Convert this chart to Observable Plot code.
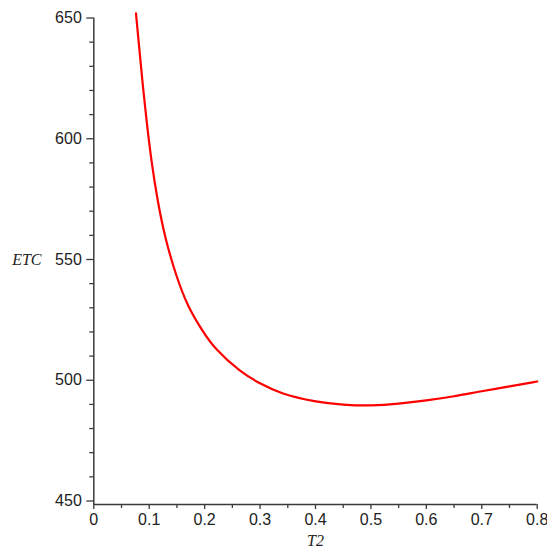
<!DOCTYPE html>
<html>
<head>
<meta charset="utf-8">
<script src="https://cdn.jsdelivr.net/npm/d3@7"></script>
<script src="https://cdn.jsdelivr.net/npm/@observablehq/plot@0.6"></script>
<style>
  html, body { margin: 0; padding: 0; background: #fff; }
</style>
</head>
<body>
<div id="chart"></div>
<script>
const T2 = [0.0761, 0.0807, 0.0875, 0.0951, 0.1037, 0.1149, 0.1288, 0.1483, 0.1691, 0.1956, 0.2165, 0.2647, 0.3008, 0.3369, 0.4, 0.45, 0.5, 0.55, 0.6, 0.65, 0.7, 0.75, 0.8];
const ETC = [651.9, 640.7, 624.1, 607.5, 591.0, 574.4, 558.6, 543.4, 530.6, 520.6, 513.4, 503.3, 498.5, 494.4, 491.0, 489.8, 489.4, 490.2, 491.6, 493.3, 495.5, 497.4, 499.5];

const xMajor = [0, 0.1, 0.2, 0.3, 0.4, 0.5, 0.6, 0.7, 0.8];
const xMinor = [0.05, 0.15, 0.25, 0.35, 0.45, 0.55, 0.65, 0.75];
const yMajor = [450, 500, 550, 600, 650];
const yMinor = [460, 470, 480, 490, 510, 520, 530, 540, 560, 570, 580, 590, 610, 620, 630, 640];

const xLabel = "T2";
const yLabel = "ETC";

const data = T2.map((t, i) => ({t, e: ETC[i]}));

const yLow = 450 - 3.5 / 2.415; // x-axis sits a few pixels below 450
const axisColor = "#3a3a3a";

const chart = Plot.plot({
  width: 547,
  height: 548,
  marginLeft: 93.3,
  marginRight: 10.3,
  marginTop: 17.5,
  marginBottom: 44,
  x: {domain: [0, 0.8]},
  y: {domain: [yLow, 650]},
  style: {fontFamily: "'Liberation Sans', Arial, sans-serif", fontSize: "16px", color: "#222", background: "#fff"},
  marks: [
    Plot.axisY(yMajor, {tickSize: 7, tickPadding: 5, label: null, stroke: axisColor, strokeWidth: 1.3, fontSize: 16, fill: "#222"}),
    Plot.axisY(yMinor, {tickSize: 4, tickFormat: () => "", label: null, stroke: axisColor, strokeWidth: 1.3}),
    Plot.axisX(xMajor, {tickSize: 5, tickPadding: 4, label: null, stroke: axisColor, strokeWidth: 1.3, fontSize: 16, fill: "#222", tickFormat: d => String(d)}),
    Plot.axisX(xMinor, {tickSize: 4, tickFormat: () => "", label: null, stroke: axisColor, strokeWidth: 1.3}),
    Plot.ruleX([0], {stroke: axisColor, strokeWidth: 1.5}),
    Plot.ruleY([yLow], {stroke: axisColor, strokeWidth: 1.5}),
    Plot.line(data, {x: "t", y: "e", stroke: "#ff0000", strokeWidth: 2.2, curve: "basis"}),
    Plot.text([yLabel], {x: 0, y: 550, dx: -81.6, text: d => d, textAnchor: "start", lineAnchor: "middle",
      fontFamily: "'Liberation Serif', 'Times New Roman', serif", fontStyle: "italic", fontSize: 16, fill: "#222"}),
    Plot.text([xLabel], {x: 0.4, y: yLow, dy: 30, text: d => d, textAnchor: "middle", lineAnchor: "top",
      fontFamily: "'Liberation Serif', 'Times New Roman', serif", fontStyle: "italic", fontSize: 16, fill: "#222"})
  ]
});
document.getElementById("chart").appendChild(chart);
</script>
</body>
</html>
